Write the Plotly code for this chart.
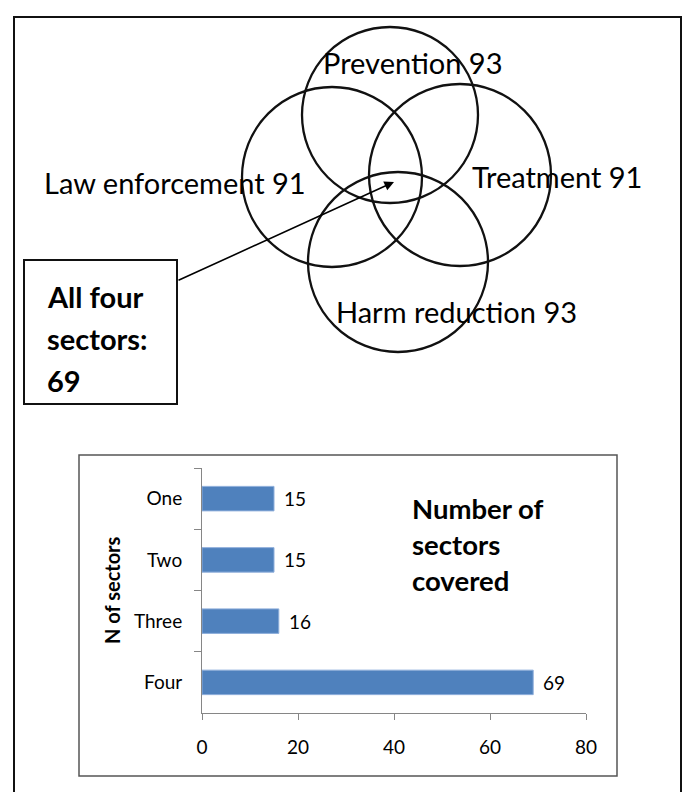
import plotly.graph_objects as go

# ---- data ----
sectors = ["Prevention", "Law enforcement", "Treatment", "Harm reduction"]
sector_counts = [93, 91, 91, 93]
all_four = 69

bar_categories = ["One", "Two", "Three", "Four"]
bar_values = [15, 15, 16, 69]
x_ticks = [0, 20, 40, 60, 80]

W, H = 685, 792
FONT = "Lato, 'Open Sans', sans-serif"

fig = go.Figure()

# bar chart in its own axes
fig.add_trace(go.Bar(
    x=bar_values, y=bar_categories, orientation="h",
    marker=dict(color="#4F81BD", line=dict(color="#8EAEDB", width=1)),
    xaxis="x2", yaxis="y2", showlegend=False, hoverinfo="x+y",
))

shapes = []
annotations = []

# outer frame
shapes.append(dict(type="rect", xref="x", yref="y", x0=14, y0=17, x1=681, y1=810,
                   line=dict(color="#111", width=2), fillcolor="rgba(0,0,0,0)"))

# Venn circles (layout only)
circle_geom = {
    "Prevention": (390, 115, 88),
    "Law enforcement": (332, 177, 90),
    "Treatment": (460, 175, 91),
    "Harm reduction": (398, 262, 90),
}
label_pos = {
    "Prevention": (413, 62),
    "Law enforcement": (175, 182),
    "Treatment": (557, 176),
    "Harm reduction": (456, 311),
}
for name, cnt in zip(sectors, sector_counts):
    cx, cy, r = circle_geom[name]
    shapes.append(dict(type="circle", xref="x", yref="y", x0=cx - r, x1=cx + r,
                       y0=cy - r, y1=cy + r, line=dict(color="#111", width=2.3)))
    lx, ly = label_pos[name]
    annotations.append(dict(xref="x", yref="y", x=lx, y=ly, text=f"{name} {cnt}",
                            showarrow=False, font=dict(family=FONT, size=29, color="#000"),
                            xanchor="center", yanchor="middle"))

# callout box
shapes.append(dict(type="rect", xref="x", yref="y", x0=24, y0=260, x1=177, y1=404,
                   line=dict(color="#111", width=2), fillcolor="white"))
for i, line in enumerate(["All four", "sectors:", str(all_four)]):
    annotations.append(dict(xref="x", yref="y", x=45, y=296 + i * 42, text=f"<b>{line}</b>",
                            showarrow=False, font=dict(family=FONT, size=29, color="#000"),
                            xanchor="left", yanchor="middle"))
# arrow
annotations.append(dict(xref="x", yref="y", x=394, y=182, ax=177, ay=281,
                        axref="x", ayref="y", text="", showarrow=True,
                        arrowhead=2, arrowsize=1.2, arrowwidth=1.6, arrowcolor="#000"))

# bar chart frame
shapes.append(dict(type="rect", xref="x", yref="y", x0=79, y0=455, x1=617, y1=776,
                   line=dict(color="#555", width=1.5), fillcolor="rgba(0,0,0,0)", layer="below"))

# bar value labels
for cat, v in zip(bar_categories, bar_values):
    annotations.append(dict(xref="x2", yref="y2", x=v, y=cat, text=str(v), showarrow=False,
                            xanchor="left", yanchor="middle", xshift=8,
                            font=dict(family=FONT, size=19, color="#000")))

# y axis title
annotations.append(dict(xref="x", yref="y", x=112, y=590, text="<b>N of sectors</b>",
                        textangle=-90, showarrow=False,
                        font=dict(family=FONT, size=20, color="#000")))
# chart title inside
for i, line in enumerate(["Number of", "sectors", "covered"]):
    annotations.append(dict(xref="x", yref="y", x=410, y=508 + i * 36, text=f"<b>{line}</b>",
                            showarrow=False, xanchor="left", yanchor="middle",
                            font=dict(family=FONT, size=27.5, color="#000")))

fig.update_layout(
    width=W, height=H, margin=dict(l=0, r=0, t=0, b=0, pad=0, autoexpand=False),
    autosize=False,
    paper_bgcolor="white", plot_bgcolor="rgba(0,0,0,0)",
    xaxis=dict(range=[0, W], domain=[0, 1], visible=False, fixedrange=True, automargin=False),
    yaxis=dict(range=[H, 0], domain=[0, 1], visible=False, fixedrange=True, automargin=False),
    xaxis2=dict(domain=[202 / W, 586 / W], anchor="y2", range=[0, 80], tickvals=x_ticks,
                showline=True, linecolor="#868686", linewidth=1, ticks="outside",
                ticklen=6, tickcolor="#868686", showgrid=False, zeroline=False,
                automargin=False,
                tickfont=dict(family=FONT, size=19, color="#000"), ticklabelstandoff=11),
    yaxis2=dict(domain=[(H - 713) / H, (H - 468) / H], anchor="x2", autorange="reversed",
                type="category", showline=True, linecolor="#868686", linewidth=1,
                ticks="outside", ticklen=7, tickcolor="#868686", tickson="boundaries",
                showgrid=False, automargin=False,
                tickfont=dict(family=FONT, size=19, color="#000"),
                ticklabelstandoff=15),
    bargap=0.6,
    shapes=shapes, annotations=annotations,
)

fig.write_html(
    "out.html",
    config={"responsive": False, "displayModeBar": False},
    post_script=("document.documentElement.style.margin='0';"
                 "document.documentElement.style.overflow='hidden';"
                 "document.body.style.margin='0';document.body.style.padding='0';"
                 "document.body.style.overflow='hidden';"),
)
